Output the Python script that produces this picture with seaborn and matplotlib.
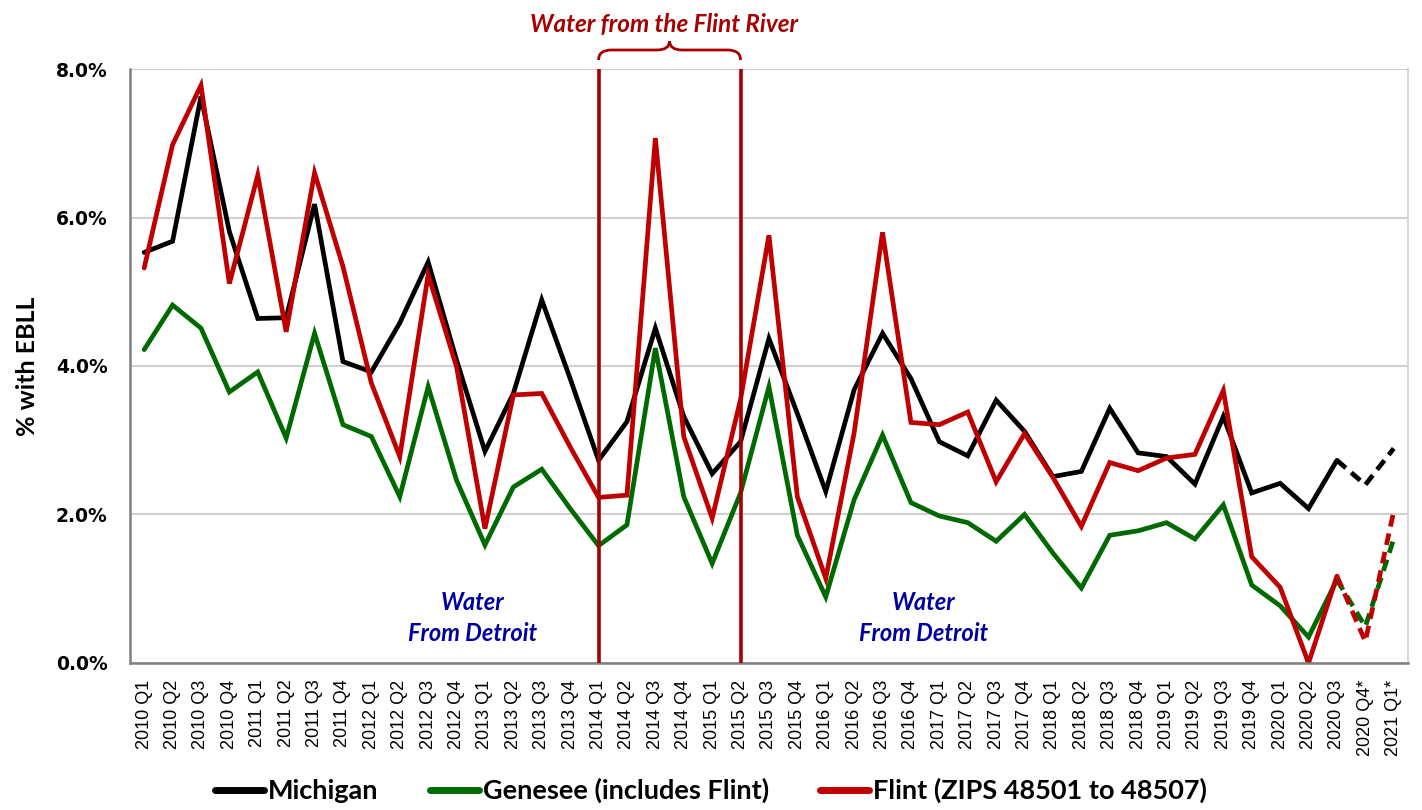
"""
Blood lead (EBLL) rates by quarter: Michigan, Genesee county and Flint.
"""
import numpy as np
import pandas as pd
import matplotlib
matplotlib.use('Agg')
import matplotlib.pyplot as plt
from matplotlib.path import Path
from matplotlib.patches import PathPatch
from matplotlib.ticker import FixedLocator, FuncFormatter, MultipleLocator
from matplotlib.lines import Line2D
import seaborn as sns

# quarters 2010 Q1 .. 2021 Q1 (last two are provisional, marked with *)
quarters = [f"{y} Q{q}" for y in range(2010, 2021) for q in range(1, 5)] + ["2021 Q1"]
quarters[-2] = "2020 Q4*"
quarters[-1] = "2021 Q1*"

# % of children tested with elevated blood lead level
michigan = [5.53, 5.68, 7.63, 5.81, 4.64, 4.65, 6.18, 4.06, 3.92, 4.58, 5.40, 4.08,
            2.85, 3.63, 4.89, 3.83, 2.73, 3.25, 4.51, 3.32, 2.55, 2.98, 4.37, 3.36,
            2.31, 3.68, 4.44, 3.83, 2.98, 2.79, 3.54, 3.12, 2.51, 2.58, 3.43, 2.83,
            2.78, 2.41, 3.32, 2.29, 2.42, 2.08, 2.73, 2.40, 2.89]
genesee = [4.22, 4.82, 4.51, 3.65, 3.92, 3.03, 4.44, 3.21, 3.05, 2.24, 3.72, 2.46,
           1.59, 2.37, 2.61, 2.08, 1.58, 1.86, 4.24, 2.24, 1.34, 2.29, 3.72, 1.72,
           0.89, 2.20, 3.07, 2.16, 1.98, 1.89, 1.64, 2.00, 1.48, 1.01, 1.72, 1.78,
           1.89, 1.67, 2.13, 1.05, 0.77, 0.35, 1.12, 0.49, 1.67]
flint = [5.32, 6.98, 7.78, 5.11, 6.57, 4.46, 6.60, 5.34, 3.77, 2.78, 5.23, 3.99,
         1.81, 3.61, 3.63, 2.91, 2.23, 2.26, 7.07, 3.05, 1.95, 3.55, 5.76, 2.24,
         1.14, 3.10, 5.80, 3.24, 3.21, 3.38, 2.44, 3.09, 2.50, 1.84, 2.70, 2.59,
         2.76, 2.81, 3.67, 1.43, 1.02, 0.00, 1.17, 0.29, 2.04]

series_names = ["Michigan", "Genesee (includes Flint)", "Flint (ZIPS 48501 to 48507)"]
series_colors = ["#000000", "#006A00", "#C00000"]

# Flint river period: 2014 Q1 .. 2015 Q2
flint_start = "2014 Q1"
flint_end = "2015 Q2"
last_solid = "2020 Q3"

df = pd.DataFrame({"quarter": quarters, "Michigan": michigan,
                   "Genesee (includes Flint)": genesee,
                   "Flint (ZIPS 48501 to 48507)": flint})
df["pos"] = np.arange(len(df))
long = df.melt(id_vars=["quarter", "pos"], var_name="series", value_name="pct")
cut = quarters.index(last_solid)
solid = long[long["pos"] <= cut]
dashed = long[long["pos"] >= cut]

sns.set_style("white")
plt.rcParams.update({"text.color": "black", "xtick.color": "black", "ytick.color": "black",
                     "axes.labelcolor": "black"})
narrow = ["Lato", "DejaVu Sans"]

fig = plt.figure(figsize=(14.22, 8.10), dpi=100)
ax = fig.add_axes([0.0914, 0.1815, 0.8987, 0.7333])

palette = dict(zip(series_names, series_colors))
sns.lineplot(data=solid, x="pos", y="pct", hue="series", hue_order=series_names,
             palette=palette, lw=3.4, legend=False, ax=ax)
sns.lineplot(data=dashed, x="pos", y="pct", hue="series", hue_order=series_names,
             palette=palette, lw=3.4, legend=False, ax=ax)
for ln in ax.lines[3:]:
    ln.set_linestyle((0, (2.5, 1.5)))
for ln in ax.lines:
    ln.set_solid_joinstyle("miter")

ax.set_xlim(-0.5, len(quarters) - 0.5)
ax.set_ylim(0, 8)

# period marker lines
x0, x1 = quarters.index(flint_start), quarters.index(flint_end)
ax.vlines([x0, x1], 0, 8, color="#A80000", lw=2.6, zorder=5)

# curly brace above the period
tr = matplotlib.transforms.blended_transform_factory(ax.transData, ax.transAxes)
xm = (x0 + x1) / 2
r = 0.45
ye, yb, yt = 1.015, 1.032, 1.047
verts = [(x0, ye), (x0, yb), (x0 + r, yb), (xm - r, yb), (xm, yb), (xm, yt),
         (xm, yb), (xm + r, yb), (x1 - r, yb), (x1, yb), (x1, ye)]
codes = [Path.MOVETO, Path.CURVE3, Path.CURVE3, Path.LINETO, Path.CURVE3, Path.CURVE3,
         Path.CURVE3, Path.CURVE3, Path.LINETO, Path.CURVE3, Path.CURVE3]
ax.add_patch(PathPatch(Path(verts, codes), transform=tr, fill=False,
                       edgecolor="#A80000", lw=2.0, clip_on=False))
ax.text(xm - 0.2, 1.075, "Water from the Flint River", transform=tr, ha="center", va="center",
        color="#A80000", fontsize=17.5, fontweight="bold", fontstyle="italic", family=narrow)

for xc in [11.55, 27.45]:
    ax.text(xc, 0.82, "Water", ha="center", va="center", color="#0000A0",
            fontsize=17, fontweight="bold", fontstyle="italic", family=narrow)
    ax.text(xc, 0.40, "From Detroit", ha="center", va="center", color="#0000A0",
            fontsize=17, fontweight="bold", fontstyle="italic", family=narrow)

# axes styling
ax.yaxis.set_major_locator(MultipleLocator(2))
ax.yaxis.set_minor_locator(MultipleLocator(1))
ax.yaxis.set_major_formatter(FuncFormatter(lambda v, p: f"{v:.1f}%"))
ax.yaxis.grid(True, which="major", color="#D0D0D0", lw=1.5)
ax.set_axisbelow(True)
ax.set_xticks(df["pos"])
ax.set_xticklabels(quarters, rotation=90, fontsize=13, family="Liberation Sans")
ax.xaxis.set_minor_locator(FixedLocator(np.arange(-0.5, len(quarters), 1)))
ax.tick_params(axis="x", which="major", length=0, pad=12)
ax.tick_params(axis="x", which="minor", length=6, width=1.5, color="#808080")
ax.tick_params(axis="y", which="major", length=7, width=1.5, color="#808080", pad=9)
ax.tick_params(axis="y", which="minor", length=5, width=1.5, color="#808080")
for lab in ax.get_yticklabels():
    lab.set_fontweight("bold")
    lab.set_fontsize(13.5)
    lab.set_family("DejaVu Sans")

for side in ["left", "bottom"]:
    ax.spines[side].set_color("#808080")
    ax.spines[side].set_linewidth(1.8)
ax.spines["top"].set_visible(False)
ax.spines["right"].set_color("#D8D8D8")
ax.spines["right"].set_linewidth(1.5)

ax.set_xlabel("")
ax.set_ylabel("% with EBLL", fontsize=18, fontweight="bold", family=narrow, labelpad=12)

handles = [Line2D([], [], color=c, lw=5) for c in series_colors]
fig.legend(handles, series_names, loc="lower center", bbox_to_anchor=(0.5, -0.022),
           ncol=3, frameon=False, handlelength=1.8, handletextpad=0.15, columnspacing=1.9,
           prop={"family": narrow, "weight": "bold", "size": 19.5})

fig.savefig("out.png", dpi=100)
